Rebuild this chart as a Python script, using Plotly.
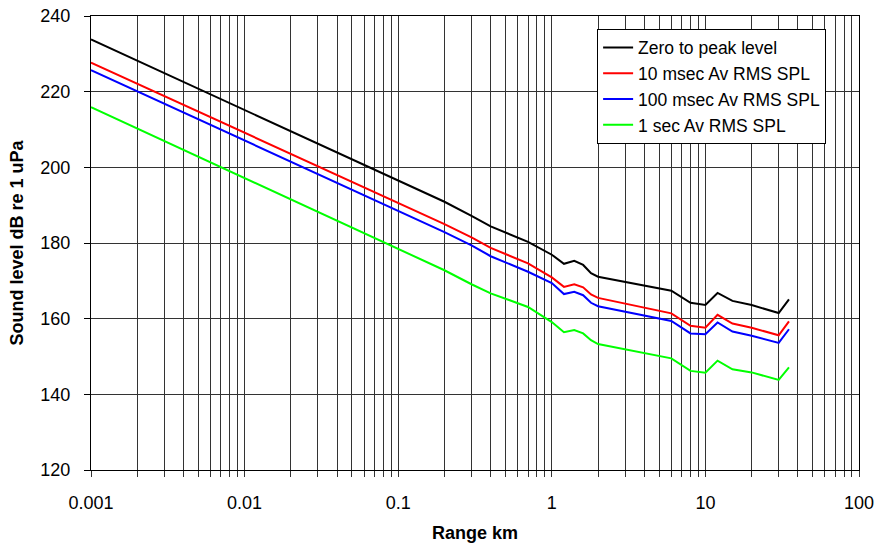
import plotly.graph_objects as go

range_km = [0.001, 0.2, 0.3, 0.4, 0.7, 1.0, 1.2, 1.4, 1.6, 1.8, 2.0, 6.0, 8.0, 10.0, 12.0, 15.0, 20.0, 30.0, 35.0]
zero_to_peak = [233.8, 190.9, 187.2, 184.4, 180.3, 176.9, 174.5, 175.3, 174.2, 172.0, 171.1, 167.4, 164.2, 163.6, 166.8, 164.7, 163.6, 161.5, 165.1]
rms_10ms = [227.7, 185.0, 181.5, 178.7, 174.6, 170.9, 168.4, 169.1, 168.3, 166.4, 165.5, 161.4, 158.1, 157.6, 161.0, 158.7, 157.6, 155.6, 159.3]
rms_100ms = [225.7, 182.9, 179.4, 176.5, 172.4, 169.4, 166.5, 167.1, 166.2, 164.2, 163.3, 159.4, 156.1, 155.9, 159.0, 156.6, 155.5, 153.6, 157.2]
rms_1s = [215.9, 172.8, 169.1, 166.7, 163.1, 159.1, 156.4, 157.0, 156.1, 154.3, 153.3, 149.5, 146.2, 145.7, 148.9, 146.6, 145.8, 143.8, 147.1]

series_names = ["Zero to peak level", "10 msec Av RMS SPL", "100 msec Av RMS SPL", "1 sec Av RMS SPL"]
series_values = [zero_to_peak, rms_10ms, rms_100ms, rms_1s]
series_colors = ["#000000", "#FF0000", "#0000FF", "#00FF00"]

x_multipliers = [m for e in range(-3, 2) for m in range(1, 10)] + [1]
x_tick_vals = [m * 10 ** e for e in range(-3, 2) for m in range(1, 10)] + [100]
x_tick_text = [("%g" % v) if m == 1 else "" for v, m in zip(x_tick_vals, x_multipliers)]
y_tick_vals = [120, 140, 160, 180, 200, 220, 240]

fig = go.Figure()
for i, (name, vals, col) in enumerate(zip(series_names, series_values, series_colors)):
    fig.add_trace(go.Scatter(x=range_km, y=vals, mode="lines", name=name,
                             line=dict(color=col, width=2), legendgroup="g%d" % i))

font_family = "Liberation Sans, Arial, sans-serif"
fig.update_layout(
    width=878, height=550,
    margin=dict(l=91, r=19, t=16, b=80, autoexpand=False),
    paper_bgcolor="white", plot_bgcolor="white",
    font=dict(family=font_family, color="black", size=18),
    showlegend=True,
    legend=dict(x=0.659, y=0.972, xanchor="left", yanchor="top",
                bgcolor="white", bordercolor="black", borderwidth=1,
                font=dict(size=17.5, family=font_family, color="black"),
                tracegroupgap=0, itemwidth=30),
)
fig.update_xaxes(
    type="log", range=[-3, 2], automargin=False,
    tickmode="array", tickvals=x_tick_vals, ticktext=x_tick_text,
    showgrid=True, gridcolor="#333333", gridwidth=1,
    showline=True, linecolor="black", linewidth=1, mirror=True,
    ticks="outside", ticklen=6, tickcolor="#333333",
    ticklabelstandoff=10,
    tickfont=dict(size=18),
    title=dict(text="<b>Range km</b>", font=dict(size=18), standoff=14),
    zeroline=False,
)
fig.update_yaxes(
    range=[120, 240], tickmode="array", tickvals=y_tick_vals, automargin=False,
    showgrid=True, gridcolor="#333333", gridwidth=1,
    showline=True, linecolor="black", linewidth=1, mirror=True,
    ticks="outside", ticklen=6, tickcolor="black",
    ticklabelstandoff=10,
    tickfont=dict(size=18),
    title=dict(text="<b>Sound level dB re 1 uPa</b>", font=dict(size=18), standoff=12),
    zeroline=False,
)
fig.write_html("out.html", config={"displayModeBar": False},
               post_script="document.body.style.margin='0px';")
